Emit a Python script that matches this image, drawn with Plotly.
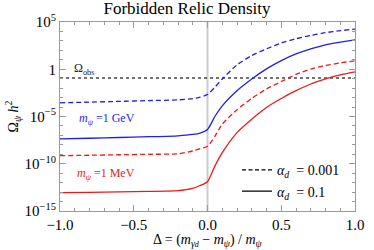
import plotly.graph_objects as go

# ---- data (log10 of Omega h^2) ----
delta = [-1.0, -0.8, -0.6, -0.4, -0.2, -0.1, -0.05, 0.0, 0.05, 0.1, 0.2,
         0.3, 0.4, 0.5, 0.6, 0.7, 0.8, 0.9, 1.0]

log_gev_a0001 = [-3.55, -3.48, -3.4, -3.32, -3.24, -3.1, -2.95, -2.66, -1.9, -1.03,
                 0.46, 1.45, 2.16, 2.77, 3.23, 3.58, 3.87, 4.08, 4.25]
log_gev_a01 = [-7.37, -7.3, -7.22, -7.14, -7.04, -6.9, -6.75, -6.38, -5.0, -3.87,
               -2.27, -1.03, 0.04, 0.92, 1.63, 2.16, 2.59, 2.87, 3.12]
log_mev_a0001 = [-9.15, -9.1, -9.05, -9.0, -8.95, -8.65, -8.4, -8.15, -7.1, -5.82,
                 -4.29, -3.09, -2.09, -1.3, -0.55, 0.02, 0.39, 0.67, 0.9]
log_mev_a01 = [-13.05, -13.02, -12.98, -12.93, -12.85, -12.6, -12.3, -11.9, -10.25, -8.83,
               -6.7, -5.28, -4.04, -3.09, -2.27, -1.56, -1.03, -0.6, -0.28]

OMEGA_OBS = 0.12
x_range = [-1.0, 1.0]

y_tick_exp = [-15, -10, -5, 0, 5]
y_tick_text = ["10<sup>−15</sup>", "10<sup>−10</sup>", "10<sup>−5</sup>", "1", "10<sup>5</sup>"]
x_tick_vals = [-1.0, -0.5, 0.0, 0.5, 1.0]
x_tick_text = ["−1.0", "−0.5", "0.0", "0.5", "1.0"]

BLUE = "#1f1fee"
RED = "#f01818"
SERIF = "Liberation Serif"
FRAME = "#9a9a9a"

fig = go.Figure()

fig.add_vline(x=0, line=dict(color="#cccccc", width=2), layer="below")

fig.add_trace(go.Scatter(x=x_range, y=[OMEGA_OBS, OMEGA_OBS], mode="lines",
                         line=dict(color="#444444", width=1.5, dash="dot"),
                         showlegend=False, hoverinfo="skip"))

def curve(logs, color, dash):
    return go.Scatter(x=delta, y=[10 ** v for v in logs], mode="lines",
                      line=dict(color=color, width=1.3, dash=dash, shape="spline", smoothing=0.6),
                      showlegend=False)

fig.add_trace(curve(log_gev_a0001, BLUE, "5px,3px"))
fig.add_trace(curve(log_gev_a01, BLUE, "solid"))
fig.add_trace(curve(log_mev_a0001, RED, "5px,3px"))
fig.add_trace(curve(log_mev_a01, RED, "solid"))

# legend entries
fig.add_trace(go.Scatter(x=[None], y=[None], mode="lines",
                         line=dict(color="black", width=1.2, dash="4px,2.5px"),
                         name="<i>α</i><sub><i>d</i></sub>  = 0.001", legendgroup="a"))
fig.add_trace(go.Scatter(x=[None], y=[None], mode="lines",
                         line=dict(color="black", width=1.2),
                         name="<i>α</i><sub><i>d</i></sub>  = 0.1", legendgroup="b"))

fig.add_annotation(x=-0.92, y=0.05, xref="x", yref="y", xanchor="left", yanchor="middle",
                   text="Ω<sub>obs</sub>", showarrow=False,
                   font=dict(family=SERIF, size=12, color="#222222"))
fig.add_annotation(x=-0.885, y=-5.3, xref="x", yref="y", xanchor="left", yanchor="middle",
                   text="<i>m</i><sub><i>ψ</i></sub> =1 GeV", showarrow=False,
                   font=dict(family=SERIF, size=12, color=BLUE))
fig.add_annotation(x=-0.895, y=-11.1, xref="x", yref="y", xanchor="left", yanchor="middle",
                   text="<i>m</i><sub><i>ψ</i></sub> =1 MeV", showarrow=False,
                   font=dict(family=SERIF, size=12, color=RED))

# x-axis title as a paper annotation
fig.add_annotation(x=0.5, y=-0.155, xref="paper", yref="paper", xanchor="center", yanchor="middle",
                   text="Δ = (<i>m</i><sub><i>γ</i><span style='font-size:8px'><i>d</i></span></sub> − <i>m</i><sub><i>ψ</i></sub>) / <i>m</i><sub><i>ψ</i></sub>",
                   showarrow=False, font=dict(family=SERIF, size=14, color="black"))

fig.update_layout(
    width=374, height=250,
    margin=dict(l=60, r=10, t=22, b=39),
    paper_bgcolor="white", plot_bgcolor="white",
    title=dict(text="Forbidden Relic Density", x=0.5, xanchor="center", y=0.99, yanchor="top",
               font=dict(family=SERIF, size=17, color="black")),
    font=dict(family=SERIF, color="black"),
    legend=dict(x=0.6, y=0.3, xanchor="left", yanchor="top", bgcolor="rgba(0,0,0,0)",
                font=dict(family=SERIF, size=14), tracegroupgap=0, itemwidth=30),
    showlegend=True,
)

fig.update_xaxes(range=x_range, tickvals=x_tick_vals, ticktext=x_tick_text,
                 ticks="inside", ticklen=6, tickcolor=FRAME, tickwidth=1,
                 minor=dict(dtick=0.1, tick0=0, ticks="inside", ticklen=3, tickcolor=FRAME),
                 showline=True, linecolor=FRAME, linewidth=1, mirror="ticks",
                 showgrid=False, zeroline=False,
                 tickfont=dict(family=SERIF, size=15))
fig.update_yaxes(type="log", range=[-15, 5],
                 tickvals=[10 ** e for e in y_tick_exp], ticktext=y_tick_text,
                 ticks="inside", ticklen=6, tickcolor=FRAME, tickwidth=1,
                 minor=dict(tickvals=[10 ** e for e in range(-15, 6)], ticks="inside",
                            ticklen=3, tickcolor=FRAME),
                 showline=True, linecolor=FRAME, linewidth=1, mirror="ticks",
                 showgrid=False, zeroline=False,
                 tickfont=dict(family=SERIF, size=15),
                 title=dict(text="Ω<sub><i>ψ</i></sub> <i>h</i><sup>2</sup>",
                            font=dict(family=SERIF, size=14), standoff=2))

fig.write_html("out.html", config={"displayModeBar": False},
               post_script="document.body.style.margin='0';document.body.style.overflow='hidden';")
